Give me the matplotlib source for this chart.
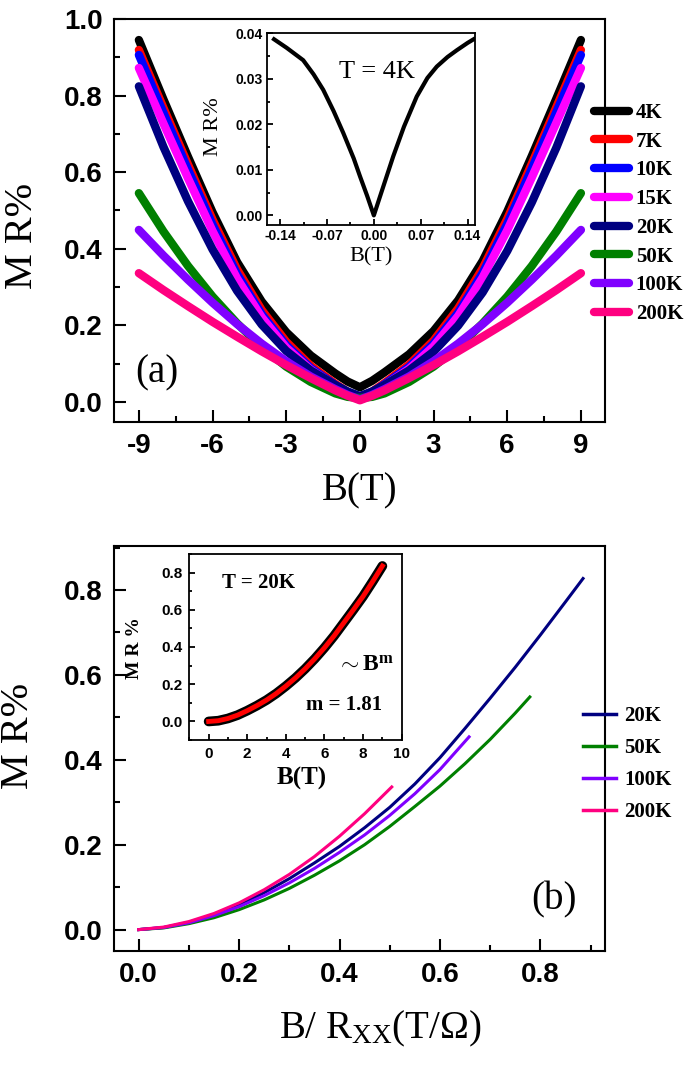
import numpy as np
import matplotlib
matplotlib.use("Agg")
import matplotlib.pyplot as plt
from matplotlib.ticker import MultipleLocator, FixedLocator

plt.rcParams['mathtext.fontset'] = 'custom'
plt.rcParams['mathtext.rm'] = 'Liberation Serif'
plt.rcParams['mathtext.it'] = 'Liberation Serif:italic'
plt.rcParams['mathtext.bf'] = 'Liberation Serif:bold'

# ---------------- data: panel (a) ----------------
B_field = [-9, -8, -7, -6, -5, -4, -3, -2, -1, -0.5, 0, 0.5, 1, 2, 3, 4, 5, 6, 7, 8, 9]
temps_a = ['4K', '7K', '10K', '15K', '20K', '50K', '100K', '200K']
colors_a = ['#000000', '#ff0000', '#0000ff', '#ff00ff', '#000080', '#008000', '#8000ff', '#ff0080']
mr_4K = [0.945, 0.790, 0.640, 0.495, 0.365, 0.262, 0.182, 0.121, 0.074, 0.053, 0.038,
         0.055, 0.077, 0.124, 0.185, 0.265, 0.368, 0.497, 0.642, 0.792, 0.945]
mr_7K = [0.919, 0.768, 0.620, 0.476, 0.346, 0.240, 0.157, 0.094, 0.047, 0.026, 0.012,
         0.027, 0.049, 0.097, 0.160, 0.244, 0.349, 0.478, 0.622, 0.770, 0.919]
mr_10K = [0.906, 0.755, 0.607, 0.463, 0.334, 0.229, 0.148, 0.088, 0.044, 0.024, 0.012,
          0.025, 0.046, 0.091, 0.152, 0.233, 0.337, 0.465, 0.609, 0.757, 0.906]
mr_15K = [0.872, 0.727, 0.584, 0.446, 0.322, 0.221, 0.142, 0.084, 0.042, 0.023, 0.012,
          0.024, 0.043, 0.086, 0.145, 0.224, 0.325, 0.448, 0.586, 0.729, 0.872]
mr_20K = [0.824, 0.666, 0.524, 0.398, 0.290, 0.202, 0.133, 0.082, 0.044, 0.027, 0.015,
          0.027, 0.044, 0.082, 0.131, 0.199, 0.286, 0.394, 0.521, 0.664, 0.824]
mr_50K = [0.545, 0.445, 0.355, 0.275, 0.205, 0.143, 0.092, 0.052, 0.022, 0.013, 0.010,
          0.013, 0.022, 0.052, 0.092, 0.143, 0.205, 0.275, 0.355, 0.445, 0.545]
mr_100K = [0.449, 0.382, 0.319, 0.259, 0.203, 0.152, 0.106, 0.066, 0.033, 0.018, 0.006,
           0.018, 0.033, 0.066, 0.106, 0.152, 0.203, 0.259, 0.319, 0.382, 0.449]
mr_200K = [0.336, 0.292, 0.250, 0.209, 0.170, 0.132, 0.096, 0.062, 0.030, 0.016, 0.004,
           0.016, 0.030, 0.062, 0.096, 0.132, 0.170, 0.209, 0.250, 0.292, 0.336]
mr_a = [mr_4K, mr_7K, mr_10K, mr_15K, mr_20K, mr_50K, mr_100K, mr_200K]

# inset (a): T = 4K low field
B_low = [-0.149, -0.13, -0.1055, -0.09, -0.0756, -0.06, -0.0456, -0.03, -0.0207, -0.01, 0.0,
         0.01, 0.029, 0.045, 0.064, 0.08, 0.094, 0.11, 0.124, 0.14, 0.149]
mr_low = [0.0387, 0.0368, 0.0341, 0.0310, 0.0276, 0.0229, 0.0181, 0.0125, 0.0086, 0.0043, 0.0,
          0.0045, 0.0130, 0.0195, 0.0261, 0.0302, 0.0327, 0.0348, 0.0363, 0.0379, 0.0387]

# ---------------- data: panel (b) ----------------
temps_b = ['20K', '50K', '100K', '200K']
colors_b = ['#000080', '#008000', '#8000ff', '#ff0080']
x_20K = [0, 0.05, 0.1, 0.15, 0.2, 0.25, 0.3, 0.35, 0.4, 0.45, 0.5, 0.55, 0.6, 0.65, 0.7,
         0.75, 0.8, 0.85, 0.885]
y_20K = [0, 0.005, 0.017, 0.035, 0.059, 0.087, 0.120, 0.157, 0.196, 0.240, 0.288, 0.343,
         0.405, 0.474, 0.545, 0.618, 0.694, 0.772, 0.827]
x_50K = [0, 0.05, 0.1, 0.15, 0.2, 0.25, 0.3, 0.35, 0.4, 0.45, 0.5, 0.55, 0.6, 0.65, 0.7,
         0.75, 0.779]
y_50K = [0, 0.004, 0.014, 0.028, 0.047, 0.070, 0.097, 0.128, 0.162, 0.200, 0.243, 0.290,
         0.338, 0.391, 0.448, 0.510, 0.548]
x_100K = [0, 0.05, 0.1, 0.15, 0.2, 0.25, 0.3, 0.35, 0.4, 0.45, 0.5, 0.55, 0.6, 0.658]
y_100K = [0, 0.005, 0.016, 0.033, 0.054, 0.080, 0.110, 0.144, 0.182, 0.223, 0.269, 0.320,
          0.377, 0.454]
x_200K = [0, 0.05, 0.1, 0.15, 0.2, 0.25, 0.3, 0.35, 0.4, 0.45, 0.504]
y_200K = [0, 0.006, 0.019, 0.038, 0.063, 0.094, 0.130, 0.172, 0.220, 0.273, 0.336]
xs_b = [x_20K, x_50K, x_100K, x_200K]
ys_b = [y_20K, y_50K, y_100K, y_200K]

# inset (b): T = 20K, data and B^m fit (m = 1.81)
B_20K = [0, 0.5, 1, 1.5, 2, 2.5, 3, 3.5, 4, 4.5, 5, 5.5, 6, 6.5, 7, 7.5, 8, 8.5, 9]
mr_20K_data = [0.0, 0.004, 0.016, 0.034, 0.058, 0.085, 0.115, 0.150, 0.190, 0.234, 0.283,
               0.337, 0.396, 0.460, 0.530, 0.600, 0.672, 0.752, 0.835]
mr_20K_fit = [0.0, 0.004, 0.016, 0.034, 0.058, 0.085, 0.115, 0.150, 0.190, 0.234, 0.283,
              0.337, 0.396, 0.460, 0.530, 0.600, 0.672, 0.752, 0.835]

# ---------------- styling ----------------
SANS = 'Liberation Sans'
SERIF = 'Liberation Serif'

fig = plt.figure(figsize=(6.85, 10.65), dpi=100)


def style_axes(ax, size, major_len, minor_len, pad, lw=1.5):
    for s in ax.spines.values():
        s.set_linewidth(lw)
    ax.tick_params(which='both', direction='in', top=False, right=False, width=lw)
    ax.tick_params(which='major', length=major_len, pad=pad)
    ax.tick_params(which='minor', length=minor_len)
    for lab in ax.get_xticklabels() + ax.get_yticklabels():
        lab.set_fontfamily(SANS)
        lab.set_fontweight('bold')
        lab.set_fontsize(size)


# ---------- panel (a) ----------
ax1 = fig.add_axes([0.1658, 0.604, 0.7174, 0.3782])
for mr, c, t in zip(mr_a, colors_a, temps_a):
    ax1.plot(B_field, mr, color=c, lw=6, solid_capstyle='round', solid_joinstyle='round', label=t)
ax1.set_xlim(-10.03, 9.98)
ax1.set_ylim(-0.052, 1.0)
ax1.xaxis.set_major_locator(FixedLocator([-9, -6, -3, 0, 3, 6, 9]))
ax1.xaxis.set_minor_locator(MultipleLocator(1.5))
ax1.yaxis.set_major_locator(FixedLocator([0.0, 0.2, 0.4, 0.6, 0.8, 1.0]))
ax1.yaxis.set_minor_locator(MultipleLocator(0.1))
ax1.set_xticklabels(['-9', '-6', '-3', '0', '3', '6', '9'])
ax1.set_yticklabels(['0.0', '0.2', '0.4', '0.6', '0.8', '1.0'])
style_axes(ax1, 20, 8.5, 4.5, 8)
ax1.set_xlabel('B(T)', fontfamily=SERIF, fontsize=28)
ax1.set_ylabel('M R%', fontfamily=SERIF, fontsize=29)
ax1.xaxis.set_label_coords(0.5, -0.127)
ax1.yaxis.set_label_coords(-0.148, 0.461)
ax1.text(0.088, 0.122, '(a)', transform=ax1.transAxes, fontfamily=SERIF, fontsize=28,
         ha='center', va='center')
leg1 = ax1.legend(loc='upper left', bbox_to_anchor=(0.9776, 0.7915), frameon=False,
                  borderaxespad=0, borderpad=0, handlelength=1.7, handletextpad=0.3,
                  labelspacing=0.42, prop={'family': SERIF, 'weight': 'bold', 'size': 15})
for h in leg1.get_lines():
    h.set_linewidth(6)

# inset (a)
ins1 = fig.add_axes([0.3893, 0.7892, 0.3041, 0.1795])
ins1.plot(B_low, mr_low, color='black', lw=3, solid_joinstyle='round')
ins1.set_xlim(-0.16, 0.151)
ins1.set_ylim(-0.002, 0.04)
ins1.xaxis.set_major_locator(FixedLocator([-0.14, -0.07, 0.0, 0.07, 0.14]))
ins1.xaxis.set_minor_locator(MultipleLocator(0.035))
ins1.yaxis.set_major_locator(FixedLocator([0.0, 0.01, 0.02, 0.03, 0.04]))
ins1.yaxis.set_minor_locator(MultipleLocator(0.005))
ins1.set_xticklabels(['-0.14', '-0.07', '0.00', '0.07', '0.14'])
ins1.set_yticklabels(['0.00', '0.01', '0.02', '0.03', '0.04'])
style_axes(ins1, 10, 4, 2.5, 3, lw=1.3)
ins1.set_xlabel('B(T)', fontfamily=SERIF, fontsize=16)
ins1.set_ylabel('M R%', fontfamily=SERIF, fontsize=16)
ins1.xaxis.set_label_coords(0.5, -0.12)
ins1.yaxis.set_label_coords(-0.21, 0.51)
ins1.text(0.528, 0.80, 'T = 4K', transform=ins1.transAxes, fontfamily=SERIF, fontsize=19,
          ha='center', va='center')

# ---------- panel (b) ----------
ax2 = fig.add_axes([0.1658, 0.1072, 0.7174, 0.3799])
for x, y, c, t in zip(xs_b, ys_b, colors_b, temps_b):
    ax2.plot(x, y, color=c, lw=2.2, label=t, solid_joinstyle='round')
ax2.set_xlim(-0.05, 0.9287)
ax2.set_ylim(-0.05, 0.903)
ax2.xaxis.set_major_locator(FixedLocator([0.0, 0.2, 0.4, 0.6, 0.8]))
ax2.xaxis.set_minor_locator(MultipleLocator(0.1))
ax2.yaxis.set_major_locator(FixedLocator([0.0, 0.2, 0.4, 0.6, 0.8]))
ax2.yaxis.set_minor_locator(MultipleLocator(0.1))
ax2.set_xticklabels(['0.0', '0.2', '0.4', '0.6', '0.8'])
ax2.set_yticklabels(['0.0', '0.2', '0.4', '0.6', '0.8'])
style_axes(ax2, 20, 8.5, 4.5, 8)
ax2.set_xlabel(r'B/ R$_{\mathrm{XX}}$(T/Ω)', fontfamily=SERIF, fontsize=28)
ax2.set_ylabel('M R%', fontfamily=SERIF, fontsize=29)
ax2.xaxis.set_label_coords(0.542, -0.144)
ax2.yaxis.set_label_coords(-0.156, 0.53)
ax2.text(0.896, 0.125, '(b)', transform=ax2.transAxes, fontfamily=SERIF, fontsize=28,
         ha='center', va='center')
leg2 = ax2.legend(loc='upper left', bbox_to_anchor=(0.955, 0.605), frameon=False,
                  borderaxespad=0, borderpad=0, handlelength=1.6, handletextpad=0.4,
                  labelspacing=0.58, prop={'family': SERIF, 'weight': 'bold', 'size': 15})
for h in leg2.get_lines():
    h.set_linewidth(2.5)

# inset (b)
ins2 = fig.add_axes([0.2764, 0.3051, 0.31, 0.1748])
ins2.plot(B_20K, mr_20K_data, color='black', lw=7, solid_capstyle='round')
ins2.plot(B_20K, mr_20K_fit, color='#ff0000', lw=3.5)
ins2.set_xlim(-1, 10)
ins2.set_ylim(-0.1, 0.9)
ins2.xaxis.set_major_locator(FixedLocator([0, 2, 4, 6, 8, 10]))
ins2.xaxis.set_minor_locator(MultipleLocator(1))
ins2.yaxis.set_major_locator(FixedLocator([0.0, 0.2, 0.4, 0.6, 0.8]))
ins2.yaxis.set_minor_locator(MultipleLocator(0.1))
ins2.set_xticklabels(['0', '2', '4', '6', '8', '10'])
ins2.set_yticklabels(['0.0', '0.2', '0.4', '0.6', '0.8'])
style_axes(ins2, 11, 4.5, 2.5, 5, lw=1.3)
ins2.set_xlabel('B(T)', fontfamily=SERIF, fontweight='bold', fontsize=18)
ins2.set_ylabel('M R %', fontfamily=SERIF, fontweight='bold', fontsize=14)
ins2.xaxis.set_label_coords(0.529, -0.143)
ins2.yaxis.set_label_coords(-0.217, 0.492)
ins2.text(0.325, 0.842, 'T = 20K', transform=ins2.transAxes, fontfamily=SERIF,
          fontweight='bold', fontsize=15, ha='center', va='center')
ins2.text(0.827, 0.412, r'$\sim\mathbf{B}^{\mathbf{m}}$', transform=ins2.transAxes,
          fontsize=17, ha='center', va='center')
ins2.text(0.730, 0.189, 'm = 1.81', transform=ins2.transAxes, fontfamily=SERIF,
          fontweight='bold', fontsize=15, ha='center', va='center')

fig.savefig('out.png', dpi=100)
